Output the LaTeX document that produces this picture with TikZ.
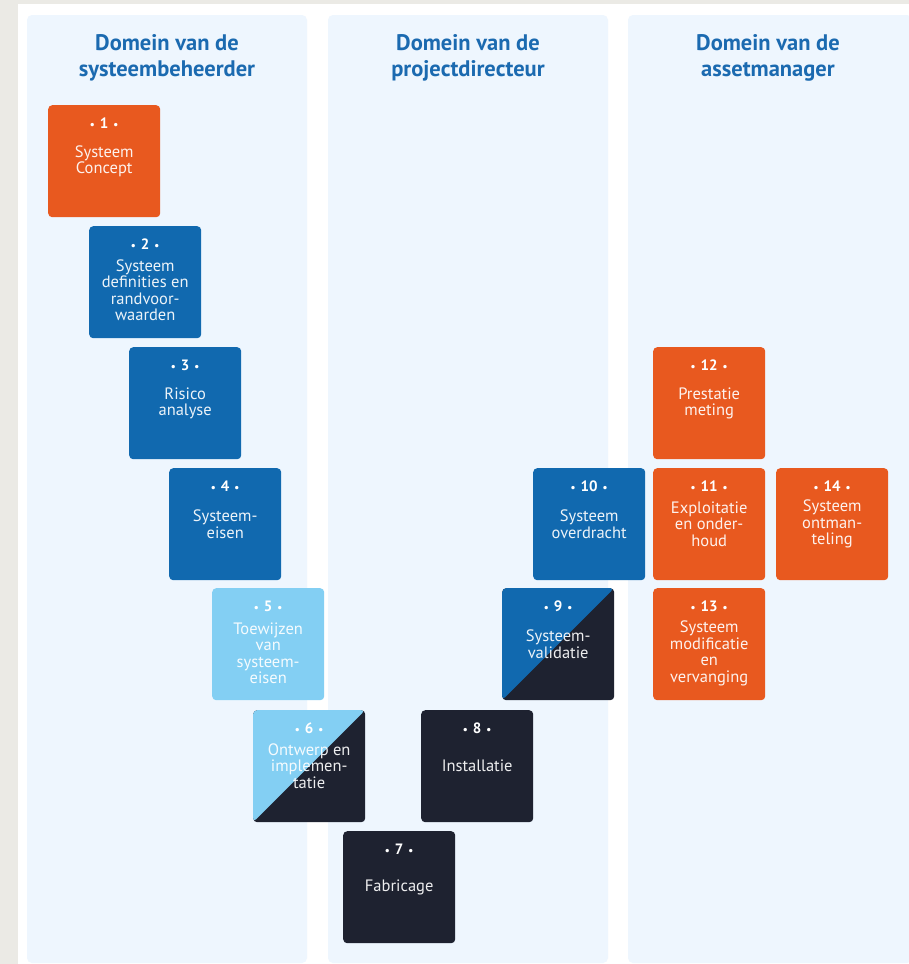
\documentclass[tikz,border=0pt]{standalone}
\usepackage{fontspec}
\setmainfont{PT Sans}
\definecolor{achter}{HTML}{EBEAE5}
\definecolor{paneel}{HTML}{EEF6FE}
\definecolor{kopblauw}{HTML}{1B6AB0}
\definecolor{oranje}{HTML}{E8591F}
\definecolor{blauw}{HTML}{1169AF}
\definecolor{lichtblauw}{HTML}{83CFF3}
\definecolor{donker}{HTML}{1E2230}

\tikzset{
  stap/.style={rounded corners=4pt, minimum width=112pt, minimum height=112pt,
               inner sep=0pt, anchor=north west},
  deels/.style={fill=donker, path picture={
      \fill[#1] (path picture bounding box.north west) --
                (path picture bounding box.north east) --
                (path picture bounding box.south west) -- cycle;}},
  nummer/.style={text=white, font=\fontsize{15}{15}\selectfont\bfseries, inner sep=0pt},
  tekst/.style={text=white, text opacity=0.92, align=center, inner sep=0pt,
                font=\fontsize{16.5}{16.5}\selectfont},
  kop/.style={text=kopblauw, align=center, inner sep=0pt,
              font=\fontsize{22.5}{26}\selectfont\bfseries}
}

% stap: [label opties] naam, x, y, vulling, nummer, tekst
\newcommand{\stap}[7][]{%
  \node[stap, #5] (#2) at (#3,#4) {};
  \node[nummer] (#2n) at ([yshift=-18pt]#2.north)
    {{\fontsize{11}{11}\selectfont •}\,\,#6\,\,{\fontsize{11}{11}\selectfont •}};
  \node[tekst, #1] (#2t) at (#2.center) {#7};
}

\begin{document}
\begin{tikzpicture}[x=1pt, y=-1pt]
    \useasboundingbox (0,0) rectangle (909,964);
    \fill[achter] (0,0) rectangle (909,964);
    \fill[white] (18,4) rectangle (909,964);

    % domeinen
    \fill[paneel, rounded corners=5pt] (27,15) rectangle (307,963);
    \fill[paneel, rounded corners=5pt] (328,15) rectangle (608,963);
    \fill[paneel, rounded corners=5pt] (628,15) rectangle (912,963);

    \node[kop] (k1) at (167,58) {Domein van de\\systeembeheerder};
    \node[kop] (k2) at (468,58) {Domein van de\\projectdirecteur};
    \node[kop] (k3) at (768,58) {Domein van de\\assetmanager};

    % linker been
    \stap{b1}{48}{105}{fill=oranje}{1}{Systeem\\Concept}
    \stap[yshift=-8pt]{b2}{89}{226}{fill=blauw}{2}{Systeem\\definities en\\randvoor-\\waarden}
    \stap{b3}{129}{347}{fill=blauw}{3}{Risico\\analyse}
    \stap{b4}{169}{468}{fill=blauw}{4}{Systeem-\\eisen}
    \stap[yshift=-9pt]{b5}{212}{588}{fill=lichtblauw}{5}{Toewijzen\\van\\systeem-\\eisen}
    \stap{b6}{253}{710}{deels=lichtblauw}{6}{Ontwerp en\\implemen-\\tatie}

    % onderkant en rechter been
    \stap{b7}{343}{831}{fill=donker}{7}{Fabricage}
    \stap{b8}{421}{710}{fill=donker}{8}{Installatie}
    \stap{b9}{502}{588}{deels=blauw}{9}{Systeem-\\validatie}
    \stap{b10}{533}{468}{fill=blauw}{10}{Systeem\\overdracht}

    % beheer
    \stap{b11}{653}{468}{fill=oranje}{11}{Exploitatie\\en onder-\\houd}
    \stap{b12}{653}{347}{fill=oranje}{12}{Prestatie\\meting}
    \stap[yshift=-9pt]{b13}{653}{588}{fill=oranje}{13}{Systeem\\modificatie\\en\\vervanging}
    \stap{b14}{776}{468}{fill=oranje}{14}{Systeem\\ontman-\\teling}
\end{tikzpicture}
\end{document}
